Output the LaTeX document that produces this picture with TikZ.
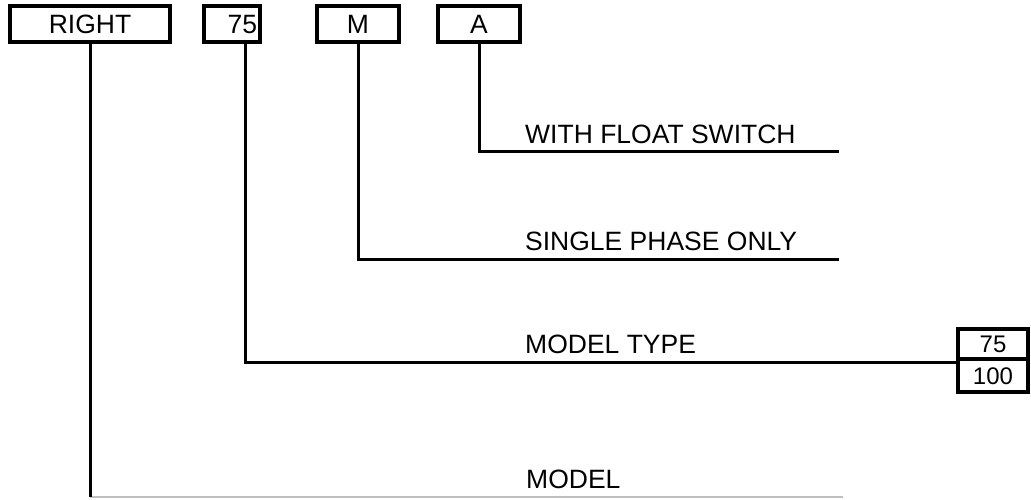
\documentclass[tikz,border=0pt]{standalone}
\usepackage{fontspec}
\setmainfont{Liberation Sans}
\begin{document}
\begin{tikzpicture}[x=1pt,y=-1pt,
  box/.style={draw,line width=3.4pt,inner sep=0pt,minimum height=36pt,text height=18.7pt,text depth=0pt,font=\fontsize{26.5}{30}\selectfont},
  sbox/.style={draw,line width=3.4pt,inner sep=0pt,minimum width=70pt,text height=17pt,text depth=0pt,font=\fontsize{24}{26}\selectfont},
  lbl/.style={anchor=base west,inner sep=0pt,font=\fontsize{26.5}{30}\selectfont},
  conn/.style={line width=3pt},
  faint/.style={line width=1.2pt,draw=black!25}]
\useasboundingbox (0,0) rectangle (1031,499);
% code boxes
\node[box,minimum width=160pt] (bR) at (90,24) {RIGHT};
\node[box,minimum width=56pt,text width=50pt,align=right] (b75) at (232,24) {75};
\node[box,minimum width=82pt] (bM) at (358,24) {M};
\node[box,minimum width=82pt] (bA) at (479,24) {A};
% option boxes
\node[sbox,minimum height=30pt] (o75) at (993,344) {75};
\node[sbox,minimum height=33pt] (o100) at (993,375.5) {100};
% labels
\node[lbl] (tA) at (525,143) {WITH FLOAT SWITCH};
\node[lbl] (tM) at (525,250) {SINGLE PHASE ONLY};
\node[lbl] (t75) at (525,353) {MODEL TYPE};
\node[lbl] (tR) at (526,488) {MODEL};
% connector ends
\coordinate (eA) at (839,151);
\coordinate (eM) at (839,259);
\coordinate (k75) at (245,362);
\coordinate (eR) at (843,497);
% connectors
\draw[conn] (bA.south) |- (eA);
\draw[conn] (bM.south) |- (eM);
\draw[conn] (k75 |- b75.south) -- (k75) -- (k75 -| o100.west);
\draw[faint] (bR.south |- eR) -- (eR);
\draw[conn] (bR.south) -- (bR.south |- eR);
\end{tikzpicture}
\end{document}
